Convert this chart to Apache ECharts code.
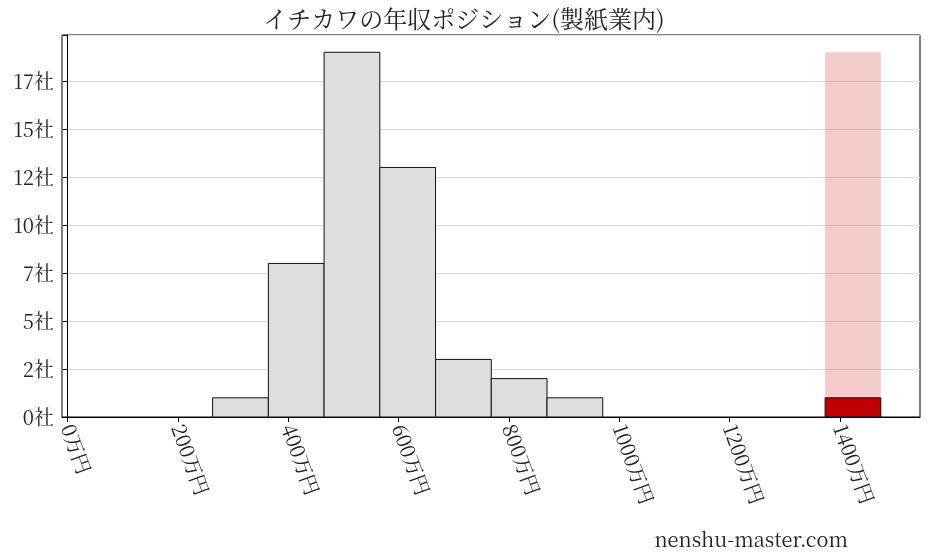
<!DOCTYPE html>
<html><head><meta charset="utf-8">
<script src="https://cdn.jsdelivr.net/npm/echarts@6/dist/echarts.min.js"></script>
</head><body style="margin:0">
<div id="chart" style="width:928px;height:557px"></div>
<script>
var binStarts = [263, 364, 465, 566, 667, 768, 869];
var binWidth = 101;
var counts = [1, 8, 19, 13, 3, 2, 1];
var companyBin = [1373, 1474];
var companyCount = 1;
var highlightHeight = 19;
var xTicks = [0, 200, 400, 600, 800, 1000, 1200, 1400];

var chart = echarts.init(document.getElementById('chart'));
var font = '"Noto Serif CJK JP", "Noto Sans CJK JP", serif';

function rect(color, border) {
  return function (params, api) {
    var p0 = api.coord([api.value(0), api.value(2)]);
    var p1 = api.coord([api.value(1), 0]);
    return {
      type: 'rect',
      shape: { x: p0[0], y: p0[1], width: p1[0] - p0[0], height: p1[1] - p0[1] },
      style: { fill: color, stroke: border, lineWidth: border ? 1 : 0 }
    };
  };
}

var histData = binStarts.map(function (s, i) { return [s, s + binWidth, counts[i]]; });

chart.setOption({
  animation: false,
  title: { text: 'イチカワの年収ポジション(製紙業内)', left: 'center', top: 2,
    textStyle: { fontFamily: font, fontSize: 24, fontWeight: 'normal', color: '#222' } },
  grid: { left: 62, right: 8, top: 35, bottom: 140, show: true, borderColor: '#000', borderWidth: 1 },
  xAxis: {
    type: 'value', min: -10, max: 1545,
    axisLine: { lineStyle: { color: '#000' } },
    axisTick: { customValues: xTicks, lineStyle: { color: '#000' } },
    axisLabel: { customValues: xTicks, rotate: -70, fontSize: 20, color: '#222', fontFamily: font,
      formatter: function (v) { return v + '万円'; } },
    splitLine: { show: false }
  },
  yAxis: {
    type: 'value', min: 0, max: 19.9, interval: 2.5,
    axisLine: { show: true, lineStyle: { color: '#000' } },
    axisTick: { show: true, lineStyle: { color: '#000' } },
    axisLabel: { fontSize: 20, color: '#222', fontFamily: font,
      formatter: function (v) { return v > 19 ? '' : Math.floor(v) + '社'; } },
    splitLine: { lineStyle: { color: '#ddd' } }
  },
  series: [
    { type: 'custom', renderItem: rect('rgba(200,0,0,0.2)'),
      data: [[companyBin[0], companyBin[1], highlightHeight]] },
    { type: 'custom', renderItem: rect('#dddee0', '#111'), data: histData },
    { type: 'custom', renderItem: rect('#c00000', '#111'),
      data: [[companyBin[0], companyBin[1], companyCount]] }
  ],
  graphic: [{ type: 'text', right: 80, bottom: 8,
    style: { text: 'nenshu-master.com', fontSize: 20, fontFamily: font, fill: '#222' } }]
});
</script>
</body></html>
